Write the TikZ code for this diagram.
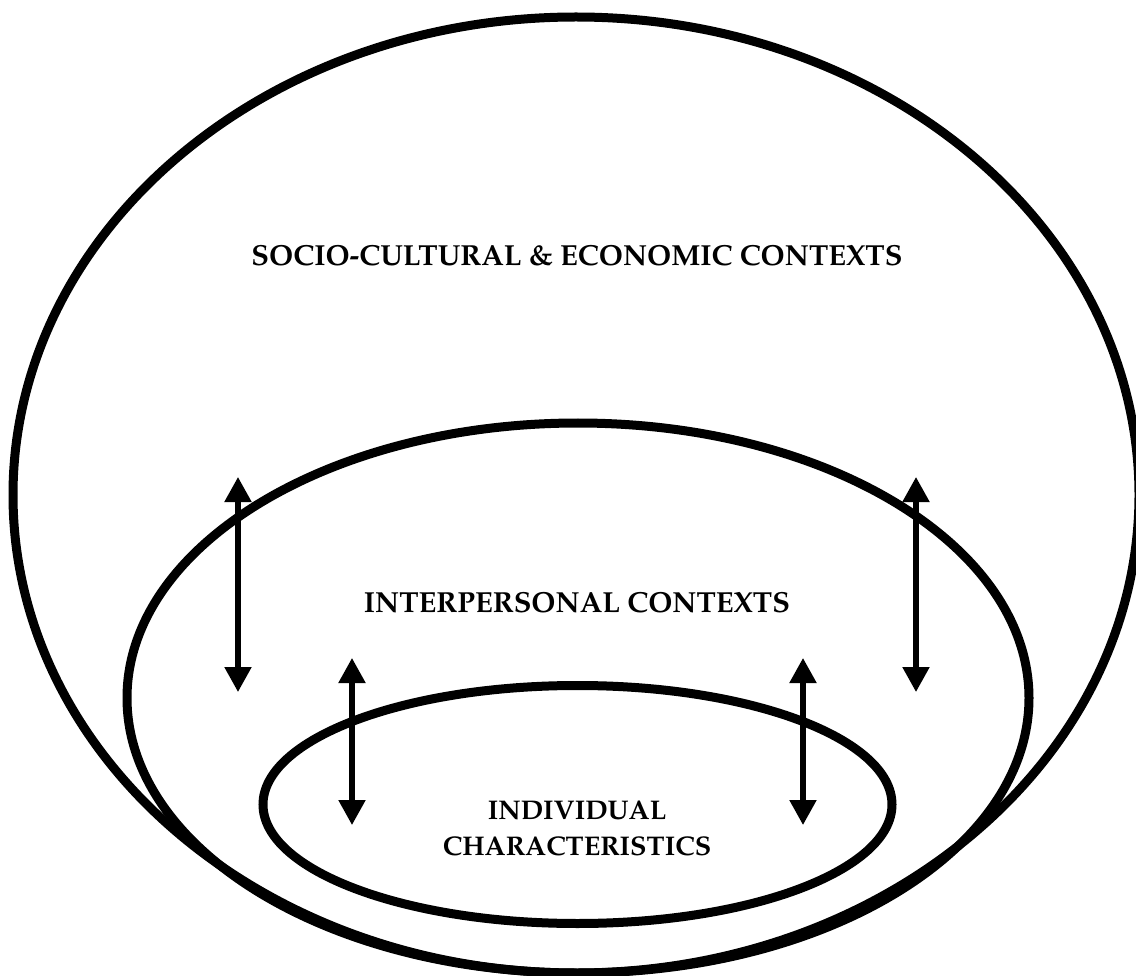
\documentclass[tikz,border=0pt]{standalone}
\usepackage[T1]{fontenc}
\usepackage{mathpazo}
\usetikzlibrary{shapes.geometric,arrows.meta}
\tikzset{
  ring/.style={draw=black, line width=9pt, ellipse, inner sep=0pt, outer sep=0pt},
  label/.style={font=\fontsize{29}{36}\selectfont\bfseries, align=center, inner sep=0pt},
  smalllabel/.style={font=\fontsize{27}{36}\selectfont\bfseries, align=center, inner sep=0pt},
  twoway/.style={line width=5.2pt, {Triangle[length=25pt,width=26pt]}-{Triangle[length=25pt,width=26pt]}}
}
\begin{document}
\begin{tikzpicture}[x=1pt,y=-1pt]
\useasboundingbox (0,0) rectangle (1136,976);
\node[ring, minimum width=1126pt, minimum height=956pt] (outer) at (576,495) {};
\node[ring, minimum width=902pt, minimum height=550pt] (middle) at (578,698) {};
\node[ring, minimum width=629pt, minimum height=238pt] (inner) at (577.5,804.5) {};
\node[label] (t1) at (577,256) {SOCIO-CULTURAL \& ECONOMIC CONTEXTS};
\node[label] (t2) at (577,603) {INTERPERSONAL CONTEXTS};
\node[smalllabel] (t3) at (577,828) {INDIVIDUAL\\CHARACTERISTICS};
\coordinate (a1t) at (238,477); \coordinate (a1b) at (238,692);
\coordinate (a2t) at (916,477); \coordinate (a2b) at (916,692);
\coordinate (a3t) at (352,658); \coordinate (a3b) at (352,825);
\coordinate (a4t) at (803,658); \coordinate (a4b) at (803,825);
\draw[twoway] (a1t) -- (a1b);
\draw[twoway] (a2t) -- (a2b);
\draw[twoway] (a3t) -- (a3b);
\draw[twoway] (a4t) -- (a4b);
\end{tikzpicture}
\end{document}
